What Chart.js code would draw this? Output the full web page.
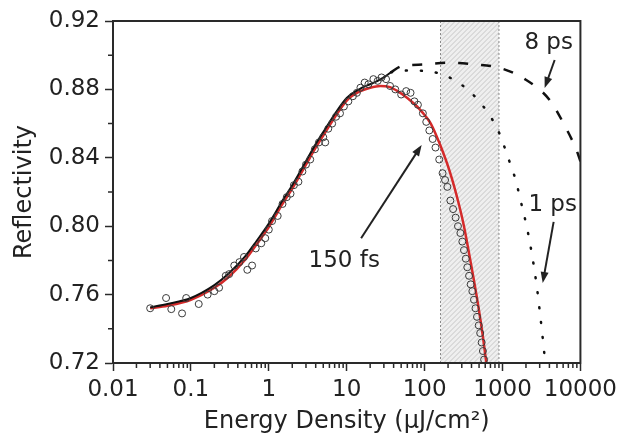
<!DOCTYPE html>
<html>
<head>
<meta charset="utf-8">
<script src="https://cdn.jsdelivr.net/npm/chart.js@4"></script>
<style>
  html, body { margin: 0; padding: 0; background: #fff; }
</style>
</head>
<body>
<canvas id="chart" width="622" height="442"></canvas>
<script>
// measured reflectivity (open circles)
const dataE = [0.03, 0.048, 0.056, 0.077, 0.087, 0.126, 0.164, 0.2, 0.23, 0.28, 0.31, 0.36, 0.42, 0.48, 0.53, 0.61, 0.68, 0.8, 0.9, 1.0,
  1.1, 1.3, 1.5, 1.7, 1.9, 2.1, 2.4, 2.7, 3.0, 3.4, 3.9, 4.4, 5.0, 5.3, 5.8, 6.5, 7.3, 8.2, 9.2, 10.5,
  12, 13.5, 15, 17, 19, 22, 25, 28, 32, 36, 42, 50, 58, 66, 74, 82, 95, 105, 115, 127,
  138, 154, 170, 183, 196, 214, 232, 250, 268, 288, 305, 320, 338, 353, 372, 390, 410, 430, 450, 470,
  495, 517, 540, 560, 580];
const dataR = [0.752, 0.758, 0.7515, 0.749, 0.758, 0.7545, 0.760, 0.762, 0.764, 0.771, 0.772, 0.777, 0.779, 0.782, 0.7745, 0.777, 0.787, 0.790, 0.793, 0.798,
  0.803, 0.806, 0.813, 0.817, 0.819, 0.824, 0.826, 0.832, 0.836, 0.839, 0.845, 0.849, 0.852, 0.849, 0.857, 0.860, 0.864, 0.866, 0.870, 0.873,
  0.876, 0.878, 0.881, 0.884, 0.883, 0.886, 0.885, 0.887, 0.886, 0.882, 0.880, 0.877, 0.879, 0.878, 0.873, 0.871, 0.866, 0.861, 0.856, 0.851,
  0.846, 0.839, 0.831, 0.827, 0.823, 0.815, 0.810, 0.805, 0.800, 0.796, 0.791, 0.786, 0.781, 0.776, 0.771, 0.766, 0.762, 0.757, 0.752, 0.747,
  0.742, 0.7375, 0.732, 0.727, 0.722];

// 150 fs curve (red)
const fitE = [0.03, 0.05, 0.1, 0.2, 0.3, 0.5, 0.7, 1, 1.5, 2, 3, 4, 5, 7, 10, 15, 20, 27, 35, 45, 60, 80, 100, 120, 160, 210, 280, 320, 390, 470, 550, 620];
const fitR = [0.752, 0.7535, 0.757, 0.764, 0.770, 0.7805, 0.7895, 0.7995, 0.813, 0.822, 0.836, 0.846, 0.853, 0.8635, 0.8735, 0.879, 0.881, 0.882, 0.8815, 0.879, 0.875, 0.870, 0.865, 0.860, 0.847, 0.832, 0.8115, 0.800, 0.779, 0.758, 0.738, 0.720];

// black curve through the data
const guideE = [0.03, 0.05, 0.1, 0.2, 0.3, 0.5, 0.7, 1, 1.5, 2, 3, 4, 5, 7, 10, 15, 20, 25, 30, 37];
const guideR = [0.7525, 0.7545, 0.758, 0.7655, 0.772, 0.7825, 0.7915, 0.8015, 0.815, 0.824, 0.838, 0.848, 0.855, 0.8655, 0.875, 0.8805, 0.883, 0.885, 0.887, 0.890];

// 8 ps (dashed) and 1 ps (dotted)
const ps8E = [37, 50, 100, 200, 430, 930, 1935, 4030, 6250, 8890, 10000];
const ps8R = [0.890, 0.8935, 0.8946, 0.8956, 0.8946, 0.8925, 0.886, 0.8738, 0.859, 0.8446, 0.838];
const ps1E = [37, 60, 154, 239, 371, 548, 746, 930, 1092, 1271, 1476, 1656, 2051, 2377, 2750, 3033, 3350, 3600];
const ps1R = [0.890, 0.891, 0.8894, 0.8855, 0.8792, 0.8709, 0.8621, 0.8533, 0.8446, 0.8358, 0.827, 0.8175, 0.7995, 0.784, 0.765, 0.7487, 0.7307, 0.7167];

// shaded band (energy density range)
const shadeRange = [160, 900];

const xTicks = [0.01, 0.1, 1, 10, 100, 1000, 10000];
const xTickLabels = ['0.01', '0.1', '1', '10', '100', '1000', '10000'];
const yTicks = [0.72, 0.76, 0.80, 0.84, 0.88, 0.92];
const yTickLabels = ['0.72', '0.76', '0.80', '0.84', '0.88', '0.92'];
const yMinor = [0.74, 0.78, 0.82, 0.86, 0.90];

// labels + arrows, in data units
const noteText = ['150 fs', '8 ps', '1 ps'];
const noteE = [9.3, 3910, 4400];
const noteR = [0.7797, 0.907, 0.8124];
const arrowFromE = [15.3, 4670, 4530];
const arrowFromR = [0.793, 0.8972, 0.8025];
const arrowToE = [91.6, 3475, 3280];
const arrowToR = [0.8475, 0.8808, 0.7668];

const INK = '#222';
const FONT = 'DejaVu Sans';

function pts(xs, ys) {
  return xs.map((v, i) => ({x: v, y: ys[i]}));
}

function drawArrow(ctx, x0, y0, x1, y1) {
  const ang = Math.atan2(y1 - y0, x1 - x0);
  const L = 11, W = 4;
  const c = Math.cos(ang), s = Math.sin(ang);
  ctx.beginPath();
  ctx.moveTo(x0, y0);
  ctx.lineTo(x1 - L * 0.8 * c, y1 - L * 0.8 * s);
  ctx.stroke();
  ctx.beginPath();
  ctx.moveTo(x1, y1);
  ctx.lineTo(x1 - L * c + W * s, y1 - L * s - W * c);
  ctx.lineTo(x1 - L * c - W * s, y1 - L * s + W * c);
  ctx.closePath();
  ctx.fill();
}

const decor = {
  id: 'decor',
  beforeDatasetsDraw(chart) {
    const {ctx, chartArea: a, scales: {x}} = chart;
    const x0 = x.getPixelForValue(shadeRange[0]);
    const x1 = x.getPixelForValue(shadeRange[1]);
    const h = a.bottom - a.top;
    ctx.save();
    ctx.fillStyle = '#efefef';
    ctx.fillRect(x0, a.top, x1 - x0, h);
    ctx.beginPath();
    ctx.rect(x0, a.top, x1 - x0, h);
    ctx.clip();
    ctx.strokeStyle = '#c6c6c6';
    ctx.lineWidth = 1;
    ctx.beginPath();
    for (let s = x0 - h; s < x1; s += 5) {
      ctx.moveTo(s, a.bottom);
      ctx.lineTo(s + h, a.top);
    }
    ctx.stroke();
    ctx.restore();

    ctx.save();
    ctx.strokeStyle = '#8a8a8a';
    ctx.lineWidth = 1;
    ctx.setLineDash([2, 2]);
    ctx.beginPath();
    ctx.moveTo(x0, a.top); ctx.lineTo(x0, a.bottom);
    ctx.moveTo(x1, a.top); ctx.lineTo(x1, a.bottom);
    ctx.stroke();
    ctx.restore();
  },
  afterDraw(chart) {
    const {ctx, chartArea: a, scales: {x, y}} = chart;
    ctx.save();
    // frame
    ctx.strokeStyle = '#2a2a2a';
    ctx.lineWidth = 2;
    ctx.strokeRect(a.left, a.top, a.right - a.left, a.bottom - a.top);

    // minor ticks
    ctx.lineWidth = 1.5;
    ctx.beginPath();
    for (let d = 0; d < xTicks.length - 1; d++) {
      for (let k = 2; k <= 9; k++) {
        const px = x.getPixelForValue(xTicks[d] * k);
        ctx.moveTo(px, a.bottom);
        ctx.lineTo(px, a.bottom + 5);
      }
    }
    yMinor.forEach(v => {
      const py = y.getPixelForValue(v);
      ctx.moveTo(a.left - 5, py);
      ctx.lineTo(a.left, py);
    });
    ctx.stroke();

    // notes and arrows
    ctx.strokeStyle = INK;
    ctx.fillStyle = INK;
    ctx.lineWidth = 2;
    for (let i = 0; i < noteText.length; i++) {
      drawArrow(ctx,
        x.getPixelForValue(arrowFromE[i]), y.getPixelForValue(arrowFromR[i]),
        x.getPixelForValue(arrowToE[i]), y.getPixelForValue(arrowToR[i]));
    }
    ctx.font = '23px "' + FONT + '"';
    ctx.textAlign = 'center';
    ctx.textBaseline = 'middle';
    for (let i = 0; i < noteText.length; i++) {
      ctx.fillText(noteText[i], x.getPixelForValue(noteE[i]), y.getPixelForValue(noteR[i]));
    }
    ctx.restore();
  }
};

new Chart(document.getElementById('chart'), {
  type: 'scatter',
  data: {
    datasets: [
      {
        data: pts(dataE, dataR),
        pointStyle: 'circle',
        pointRadius: 3.5,
        borderColor: '#3a3a3a',
        backgroundColor: 'rgba(255,255,255,0)',
        borderWidth: 1
      },
      {
        data: pts(guideE, guideR),
        showLine: true,
        pointRadius: 0,
        borderColor: '#111',
        borderWidth: 2,
        cubicInterpolationMode: 'monotone'
      },
      {
        data: pts(fitE, fitR),
        showLine: true,
        pointRadius: 0,
        borderColor: '#d42a2a',
        borderWidth: 2.5,
        cubicInterpolationMode: 'monotone'
      },
      {
        data: pts(ps8E, ps8R),
        showLine: true,
        pointRadius: 0,
        borderColor: '#111',
        borderWidth: 2.5,
        borderDash: [10, 13],
        cubicInterpolationMode: 'monotone'
      },
      {
        data: pts(ps1E, ps1R),
        showLine: true,
        pointRadius: 0,
        borderColor: '#111',
        borderWidth: 2.5,
        borderDash: [1, 14],
        borderCapStyle: 'round',
        cubicInterpolationMode: 'monotone'
      }
    ]
  },
  options: {
    responsive: false,
    animation: false,
    events: [],
    layout: { padding: { top: 21, right: 38, left: 0, bottom: 0 } },
    plugins: { legend: { display: false }, tooltip: { enabled: false } },
    scales: {
      x: {
        type: 'logarithmic',
        min: 0.01,
        max: 10000,
        afterBuildTicks: (scale) => { scale.ticks = xTicks.map(v => ({value: v})); },
        afterFit: (scale) => { scale.height = 79; },
        ticks: {
          autoSkip: false,
          maxRotation: 0,
          padding: 5,
          color: INK,
          font: { family: FONT, size: 23 },
          callback: (v, i) => xTickLabels[i]
        },
        grid: { drawOnChartArea: false, tickLength: 8, tickWidth: 1.5, tickColor: '#2a2a2a' },
        border: { color: '#2a2a2a', width: 2 },
        title: {
          display: true,
          text: 'Energy Density (\u03bcJ/cm\u00b2)',
          color: INK,
          font: { family: FONT, size: 24 },
          padding: { top: 0, bottom: 6 }
        }
      },
      y: {
        min: 0.72,
        max: 0.92,
        afterBuildTicks: (scale) => { scale.ticks = yTicks.map(v => ({value: v})); },
        afterFit: (scale) => { scale.width = 113; },
        ticks: {
          padding: 5,
          color: INK,
          font: { family: FONT, size: 23 },
          callback: (v, i) => yTickLabels[i]
        },
        grid: { drawOnChartArea: false, tickLength: 8, tickWidth: 1.5, tickColor: '#2a2a2a' },
        border: { color: '#2a2a2a', width: 2 },
        title: {
          display: true,
          text: 'Reflectivity',
          color: INK,
          font: { family: FONT, size: 24 },
          padding: { top: 10, bottom: 0 }
        }
      }
    }
  },
  plugins: [decor]
});
</script>
</body>
</html>
